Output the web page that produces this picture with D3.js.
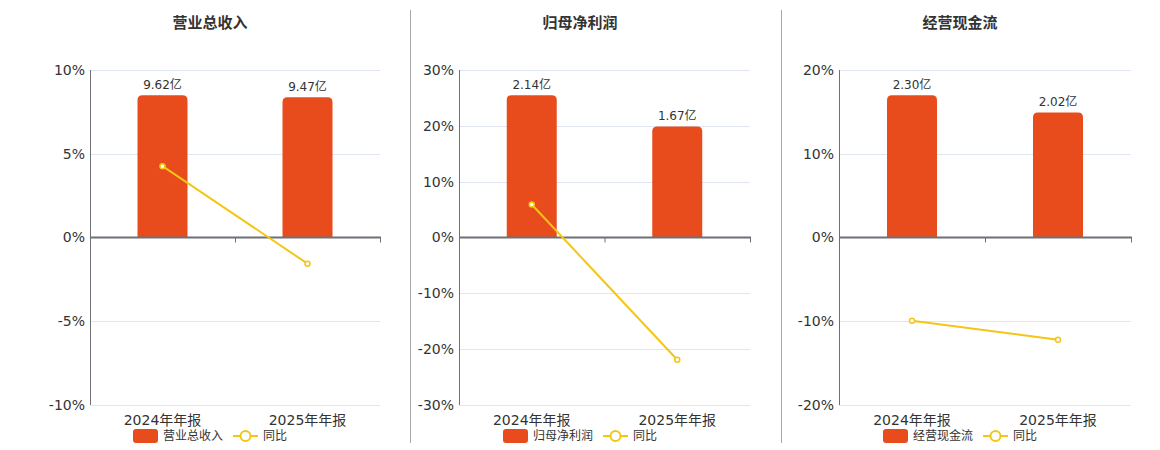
<!DOCTYPE html>
<html>
<head>
<meta charset="utf-8">
<script src="https://cdn.jsdelivr.net/npm/d3@7"></script>
<style>
  body { margin: 0; background: #fff; }
  text { font-family: "DejaVu Sans", "Noto Sans CJK SC", sans-serif; }
</style>
</head>
<body>
<svg id="chart" width="1160" height="450"></svg>
<script>
// shared categories
const periods = ["2024年年报", "2025年年报"];

// one small set of arrays per panel
const titles = ["营业总收入", "归母净利润", "经营现金流"];
const barLabels = ["9.62亿", "9.47亿"];
const revenue = [9.62, 9.47];
const revenueYoY = [4.26, -1.56];
const revenueTicks = [-10, -5, 0, 5, 10];

const profit = [2.14, 1.67];
const profitYoY = [5.9, -21.9];
const profitTicks = [-30, -20, -10, 0, 10, 20, 30];

const cashflow = [2.30, 2.02];
const cashflowYoY = [-9.94, -12.2];
const cashflowTicks = [-20, -10, 0, 10, 20];

const yoyName = "同比";

const panels = [
    { title: titles[0], bars: revenue, yoy: revenueYoY, ticks: revenueTicks, left: 90, right: 380, center: 210 },
    { title: titles[1], bars: profit, yoy: profitYoY, ticks: profitTicks, left: 459, right: 750, center: 580 },
    { title: titles[2], bars: cashflow, yoy: cashflowYoY, ticks: cashflowTicks, left: 839, right: 1131, center: 960 }
];

const barColor = "#e84c1d";
const lineColor = "#f3c614";
const axisColor = "#6e7079";
const gridColor = "#e0e6f1";
const textColor = "#333";

const svg = d3.select("#chart");
const plotTop = 70, plotBottom = 405;

// dividers between panels
[410, 781].forEach(x => {
    svg.append("line")
        .attr("x1", x + 0.5).attr("x2", x + 0.5)
        .attr("y1", 10).attr("y2", 443)
        .attr("stroke", "#aaa").attr("stroke-width", 1);
});

panels.forEach((p, pi) => {
    const g = svg.append("g");
    const fmt = pi === 0 ? barLabels : p.bars.map(v => v.toFixed(2) + "亿");

    const x = d3.scaleBand().domain(periods).range([p.left, p.right]);
    const yMax = d3.max(p.ticks);
    const y = d3.scaleLinear().domain([-yMax, yMax]).range([plotBottom, plotTop]);
    // bar axis is hidden, tallest bar sits at 85% of the upper half
    const bMax = d3.max(p.bars) / 0.85;
    const yb = d3.scaleLinear().domain([-bMax, bMax]).range([plotBottom, plotTop]);

    g.append("text")
        .attr("x", p.center).attr("y", 28)
        .attr("text-anchor", "middle")
        .attr("font-size", 15).attr("font-weight", "bold")
        .attr("fill", textColor)
        .text(p.title);

    // grid
    g.selectAll(".grid")
        .data(p.ticks.filter(t => t !== 0))
        .enter().append("line")
        .attr("x1", p.left).attr("x2", p.right)
        .attr("y1", d => Math.round(y(d)) + 0.5).attr("y2", d => Math.round(y(d)) + 0.5)
        .attr("stroke", gridColor);

    // y axis labels
    g.selectAll(".ylab")
        .data(p.ticks)
        .enter().append("text")
        .attr("x", p.left - 5).attr("y", d => y(d))
        .attr("dy", "0.35em")
        .attr("text-anchor", "end")
        .attr("font-size", 14).attr("fill", textColor)
        .text(d => d + "%");

    g.append("line")
        .attr("x1", p.left + 0.5).attr("x2", p.left + 0.5)
        .attr("y1", plotTop).attr("y2", plotBottom)
        .attr("stroke", axisColor);

    // bars
    g.selectAll(".bar")
        .data(p.bars)
        .enter().append("path")
        .attr("fill", barColor)
        .attr("d", (d, i) => {
            const bw = 50;
            const x0 = x(periods[i]) + (x.bandwidth() - bw) / 2;
            const y0 = yb(d), y1 = yb(0), r = 5;
            return `M${x0},${y1}V${y0 + r}Q${x0},${y0} ${x0 + r},${y0}H${x0 + bw - r}Q${x0 + bw},${y0} ${x0 + bw},${y0 + r}V${y1}Z`;
        });

    g.selectAll(".blab")
        .data(p.bars)
        .enter().append("text")
        .attr("x", (d, i) => x(periods[i]) + x.bandwidth() / 2)
        .attr("y", d => yb(d) - 6)
        .attr("text-anchor", "middle")
        .attr("font-size", 12).attr("fill", textColor)
        .text((d, i) => fmt[i]);

    // zero axis
    g.append("line")
        .attr("x1", p.left).attr("x2", p.right + 1)
        .attr("y1", y(0)).attr("y2", y(0))
        .attr("stroke", axisColor).attr("stroke-width", 2);
    [p.left + x.bandwidth(), p.right].forEach(tx => {
        g.append("line")
            .attr("x1", tx + 0.5).attr("x2", tx + 0.5)
            .attr("y1", y(0)).attr("y2", y(0) + 5)
            .attr("stroke", axisColor);
    });

    // x labels
    g.selectAll(".xlab")
        .data(periods)
        .enter().append("text")
        .attr("x", d => x(d) + x.bandwidth() / 2)
        .attr("y", 425)
        .attr("text-anchor", "middle")
        .attr("font-size", 14).attr("fill", textColor)
        .text(d => d);

    // yoy line
    const line = d3.line()
        .x((d, i) => x(periods[i]) + x.bandwidth() / 2)
        .y(d => y(d));
    g.append("path")
        .datum(p.yoy)
        .attr("d", line)
        .attr("fill", "none")
        .attr("stroke", lineColor).attr("stroke-width", 2);
    g.selectAll(".pt")
        .data(p.yoy)
        .enter().append("circle")
        .attr("cx", (d, i) => x(periods[i]) + x.bandwidth() / 2)
        .attr("cy", d => y(d))
        .attr("r", 2.5)
        .attr("fill", "#fff")
        .attr("stroke", lineColor).attr("stroke-width", 1.5);

    // legend
    const lg = g.append("g").attr("transform", `translate(${p.center - 77},436)`);
    lg.append("rect")
        .attr("x", 0).attr("y", -7).attr("width", 25).attr("height", 14)
        .attr("rx", 3).attr("fill", barColor);
    lg.append("text")
        .attr("x", 30).attr("y", 0).attr("dy", "0.35em")
        .attr("font-size", 12).attr("fill", textColor)
        .text(p.title);
    lg.append("line")
        .attr("x1", 100).attr("x2", 125).attr("y1", 0).attr("y2", 0)
        .attr("stroke", lineColor).attr("stroke-width", 2);
    lg.append("circle")
        .attr("cx", 112.5).attr("cy", 0).attr("r", 5)
        .attr("fill", "#fff").attr("stroke", lineColor).attr("stroke-width", 2);
    lg.append("text")
        .attr("x", 130).attr("y", 0).attr("dy", "0.35em")
        .attr("font-size", 12).attr("fill", textColor)
        .text(yoyName);
});
</script>
</body>
</html>
